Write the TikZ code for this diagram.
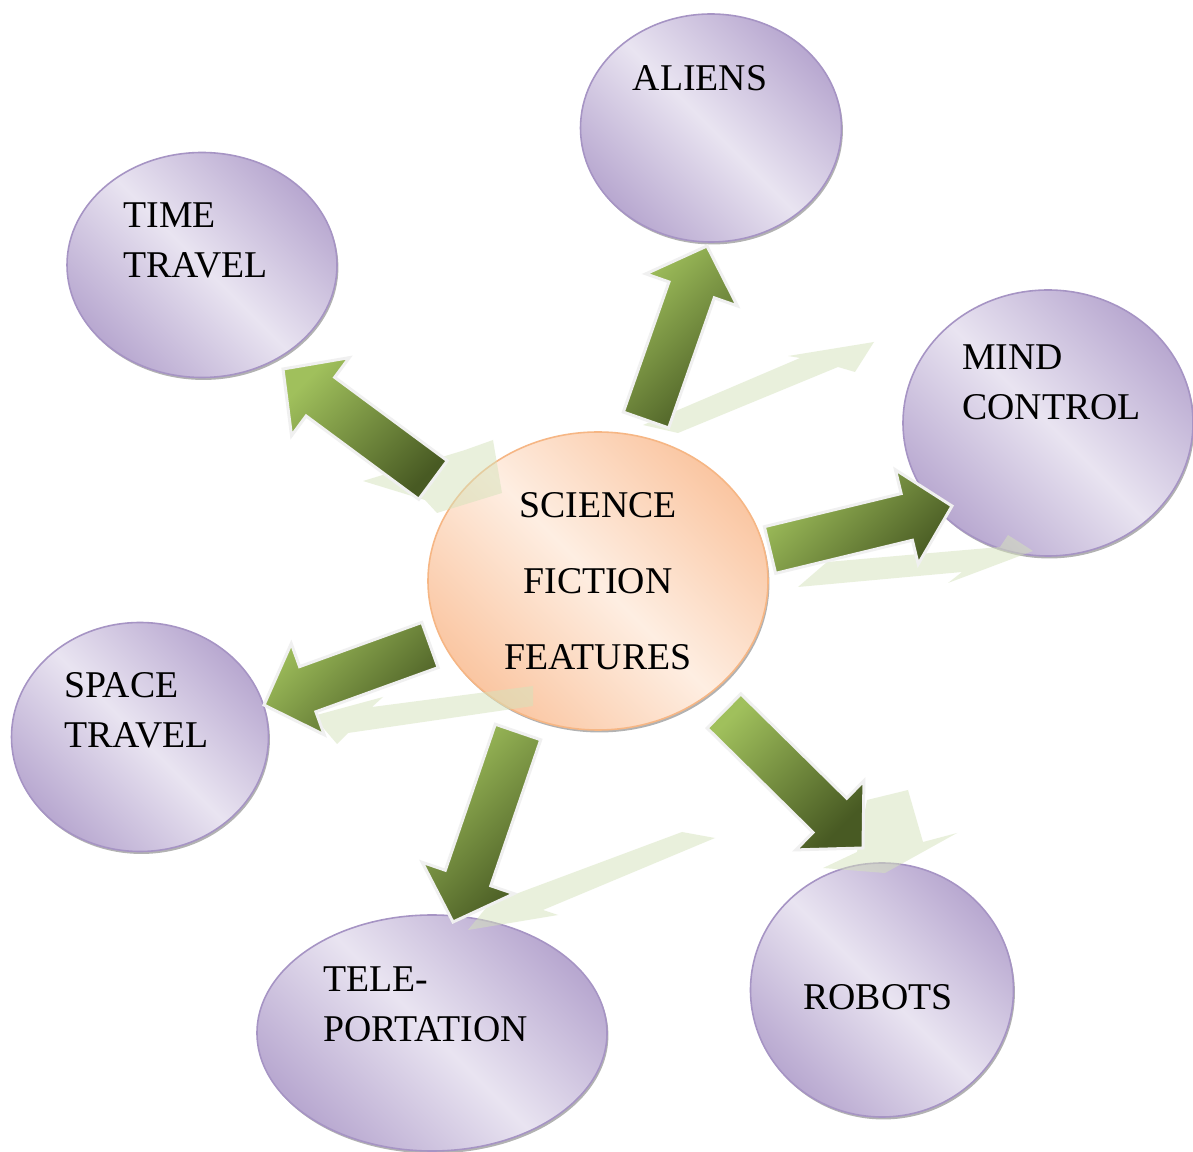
\documentclass[tikz,border=0pt]{standalone}
\usepackage{fontspec}
\setmainfont{Liberation Serif}
\usetikzlibrary{shapes.geometric, calc, shadows}
\definecolor{topicdark}{RGB}{184,168,208}
\definecolor{topiclight}{RGB}{233,228,241}
\definecolor{topicline}{RGB}{166,148,196}
\definecolor{sffdark}{RGB}{250,198,162}
\definecolor{sfflight}{RGB}{254,238,226}
\definecolor{sffline}{RGB}{246,182,132}
\definecolor{arrowlight}{RGB}{160,192,92}
\definecolor{arrowdark}{RGB}{72,90,35}
\definecolor{glow}{RGB}{213,227,187}

\begin{document}
\begin{tikzpicture}[
    topic/.style={ellipse, draw=topicline, line width=0.9pt, inner sep=0pt,
      top color=topicdark, bottom color=topicdark, middle color=topiclight, shading angle=-45,
      drop shadow={shadow xshift=0.8pt, shadow yshift=-1.4pt, opacity=0.3, fill=black}},
    sff/.style={topic, draw=sffline, top color=sffdark, bottom color=sffdark,
      middle color=sfflight, shading angle=-45, align=center, font=\fontsize{21.5}{43.2}\selectfont},
    lbl/.style={inner sep=0pt, align=left, font=\fontsize{21.5}{28.45}\selectfont},
    bigarrow/.style={draw=black!6, line width=1.7pt, line join=miter,
      top color=arrowlight, bottom color=arrowdark, shading angle=45},
    glowarrow/.style={fill=glow, opacity=0.5}]
        \path[use as bounding box, fill=white] (0,0) rectangle (23.86,23.02);

        \node[sff, minimum width=6.8cm, minimum height=5.96cm] (sff) at (11.96,11.40) {SCIENCE\\FICTION\\FEATURES};
        \node[topic, minimum width=5.22cm, minimum height=4.56cm] (aliens) at (14.22,20.46) {};
        \node[topic, minimum width=5.40cm, minimum height=4.50cm] (time) at (4.04,17.72) {};
        \node[topic, minimum width=5.80cm, minimum height=5.32cm] (mind) at (20.96,14.56) {};
        \node[topic, minimum width=5.14cm, minimum height=4.58cm] (space) at (2.80,8.28) {};
        \node[topic, minimum width=7.00cm, minimum height=4.72cm] (tele) at (8.64,2.36) {};
        \node[topic, minimum width=5.26cm, minimum height=5.08cm] (robots) at (17.64,3.22) {};

        \node[lbl] (aliens-t) at (14.00,21.46) {ALIENS};
        \node[lbl, anchor=west] (time-t) at (2.46,18.22) {TIME\\TRAVEL};
        \node[lbl, anchor=west] (mind-t) at (19.24,15.38) {MIND\\CONTROL};
        \node[lbl, anchor=west] (space-t) at (1.28,8.82) {SPACE\\TRAVEL};
        \node[lbl, anchor=west] (tele-t) at (6.46,2.94) {TELE-\\PORTATION};
        \node[lbl] (robots-t) at (17.56,3.08) {ROBOTS};

        \fill[glowarrow] (12.86,14.52) -- (16.00,15.86) -- (15.76,15.90) -- (17.48,16.18) -- (17.10,15.58) -- (16.76,15.68) -- (13.56,14.36) -- cycle;
        \fill[glowarrow] (7.26,13.40) -- (9.30,14.02) -- (9.86,14.22) -- (10.04,13.16) -- (8.74,12.76) -- (8.50,13.02) -- cycle;
        \fill[glowarrow] (15.96,11.28) -- (16.54,11.78) -- (20.00,12.08) -- (20.16,12.32) -- (20.66,12.00) -- (18.96,11.36) -- (19.24,11.58) -- cycle;
        \fill[glowarrow] (10.66,9.30) -- (7.44,8.88) -- (7.66,9.08) -- (6.26,8.70) -- (6.74,8.14) -- (6.96,8.36) -- (10.66,8.90) -- cycle;
        \fill[glowarrow] (13.64,6.38) -- (14.30,6.26) -- (10.86,4.82) -- (11.16,4.72) -- (9.36,4.42) -- (9.80,4.96) -- (10.10,5.06) -- cycle;
        \fill[glowarrow] (17.34,7.02) -- (18.16,7.22) -- (18.46,6.18) -- (19.14,6.36) -- (17.70,5.56) -- (16.46,5.66) -- (17.14,5.98) -- cycle;

        \coordinate (sff-al) at (12.92,14.62); \coordinate (al-in) at (14.14,18.10);
        \coordinate (sff-tt) at (8.66,13.42); \coordinate (tt-in) at (5.66,15.64);
        \coordinate (sff-mc) at (15.40,12.02); \coordinate (mc-in) at (19.04,12.90);
        \coordinate (sff-st) at (8.60,10.12); \coordinate (st-in) at (5.28,8.92);
        \coordinate (sff-tp) at (10.36,8.38); \coordinate (tp-in) at (9.06,4.58);
        \coordinate (sff-rb) at (14.48,8.80); \coordinate (rb-in) at (17.26,6.06);
        \foreach \t/\h in {sff-al/al-in, sff-tt/tt-in, sff-mc/mc-in, sff-st/st-in, sff-tp/tp-in, sff-rb/rb-in} {
            \coordinate (hb) at ($(\h)!0.93cm!(\t)$);
            \draw[bigarrow] ($(\t)!0.48cm!90:(\h)$) -- ($(hb)!0.48cm!90:(\h)$) -- ($(hb)!0.97cm!90:(\h)$) -- (\h)
                -- ($(hb)!0.97cm!-90:(\h)$) -- ($(hb)!0.48cm!-90:(\h)$) -- ($(\t)!0.48cm!-90:(\h)$) -- cycle;
        }
    \end{tikzpicture}
\end{document}
